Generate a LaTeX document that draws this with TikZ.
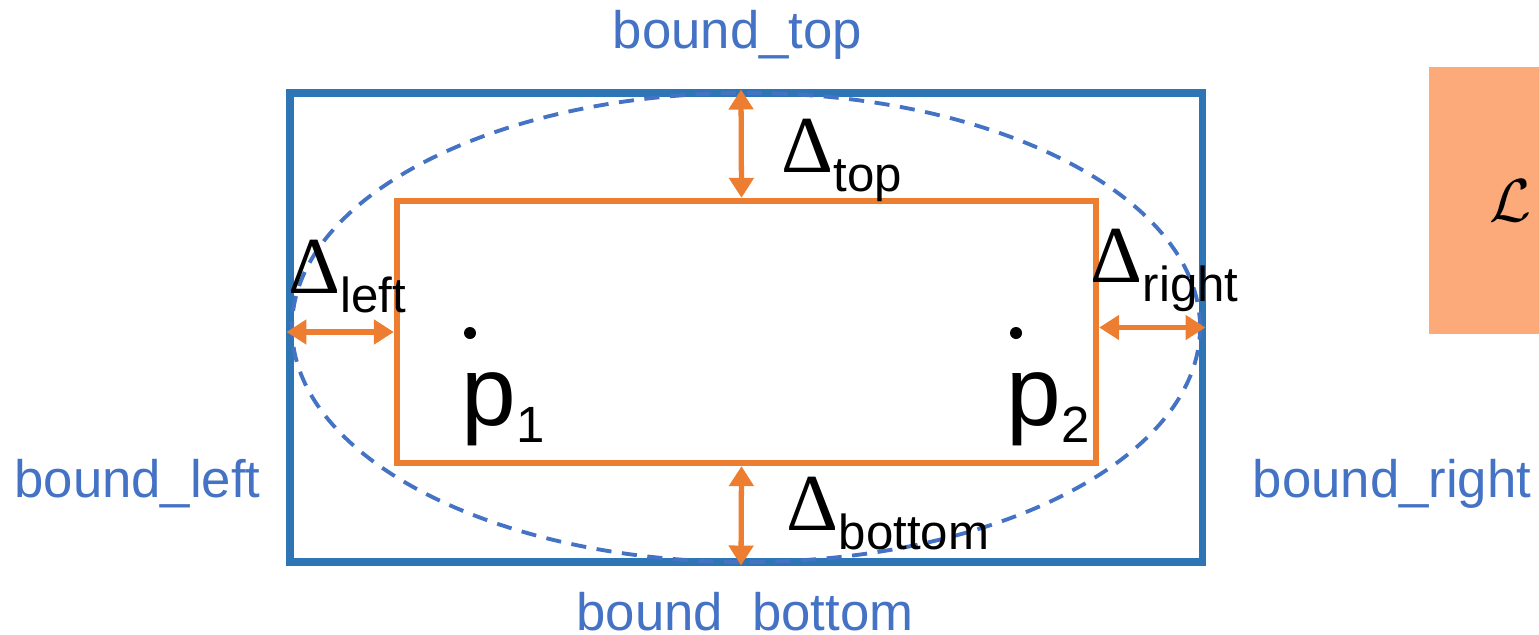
\documentclass[tikz,border=0pt]{standalone}
\usepackage{fontspec}
\setmainfont{Liberation Sans}
\newfontfamily\deltafont{Liberation Serif}
\usepackage{tikz}
\usetikzlibrary{arrows.meta,positioning,calc}
\definecolor{boundblue}{RGB}{46,117,182}
\definecolor{labelblue}{RGB}{68,114,196}
\definecolor{deltaorange}{RGB}{237,125,49}
\definecolor{lossfill}{RGB}{252,170,122}

\newcommand{\dlabel}[1]{{\deltafont\fontsize{23}{23}\selectfont Δ}\raisebox{-5.6pt}{\fontsize{14}{15}\selectfont #1}}
\newcommand{\plabel}[1]{{\fontsize{28}{28}\selectfont p}\raisebox{-5pt}{\fontsize{14.5}{15}\selectfont #1}}

\begin{document}
\begin{tikzpicture}[
    boundbox/.style={rectangle, draw=boundblue, line width=2pt, inner sep=0pt},
    innerbox/.style={rectangle, draw=deltaorange, line width=1.8pt, inner sep=0pt},
    lossbox/.style={rectangle, fill=lossfill, inner sep=0pt, minimum width=1.62cm, minimum height=2.67cm, font=\fontsize{19}{19}\selectfont},
    boundlabel/.style={text=labelblue, font=\fontsize{15}{15}\selectfont, inner sep=0pt, anchor=base},
    deltalabel/.style={inner sep=0pt, anchor=base west},
    dimarrow/.style={{Triangle[length=0.2cm,width=0.24cm]}-{Triangle[length=0.2cm,width=0.24cm]}, line width=1.5pt, deltaorange},
    pdot/.style={circle, fill=black, inner sep=0pt, minimum size=0.12cm}
]
    \useasboundingbox (0,0) rectangle (15.39,6.34);

    % bounds and inner box
    \node[boundbox, minimum width=9.12cm, minimum height=4.69cm] (outer) at (7.46,3.065) {};
    \node[innerbox, minimum width=6.99cm, minimum height=2.62cm] (inner) at (7.465,3.02) {};
    \draw[labelblue, line width=1.1pt, dash pattern=on 4.3pt off 3pt] (outer.center) ellipse (4.54cm and 2.345cm);

    % margins
    \draw[dimarrow] ([xshift=-0.05cm]inner.north) -- ([xshift=-0.05cm]outer.north);
    \draw[dimarrow] ([xshift=-0.05cm]inner.south) -- ([xshift=-0.05cm]outer.south);
    \draw[dimarrow] (inner.west) -- (outer.west |- inner.west);
    \draw[dimarrow] (inner.east |- outer.east) -- (outer.east);

    \node[deltalabel] (dtop) at (7.81,4.62) {\dlabel{top}};
    \node[deltalabel] (dleft) at (2.88,3.41) {\dlabel{left}};
    \node[deltalabel] (dright) at (10.90,3.52) {\dlabel{right}};
    \node[deltalabel] (dbottom) at (7.86,1.04) {\dlabel{bottom}};

    % points
    \node[pdot] (p1) at (4.70,3.01) {};
    \node[pdot] (p2) at (10.16,3.01) {};
    \node[deltalabel] (p1label) at (4.61,2.09) {\plabel{1}};
    \node[deltalabel] (p2label) at (10.06,2.09) {\plabel{2}};

    % bound names
    \node[boundlabel] (btop) at (7.375,5.86) {bound\_top};
    \node[boundlabel] (bleft) at (1.375,1.37) {bound\_left};
    \node[boundlabel] (bright) at (13.92,1.37) {bound\_right};
    \node[boundlabel] (bbottom) at (7.45,0.04) {bound\_bottom};

    % loss
    \node[lossbox] (loss) at (15.10,4.335) {$\mathcal{L}$};
\end{tikzpicture}
\end{document}
